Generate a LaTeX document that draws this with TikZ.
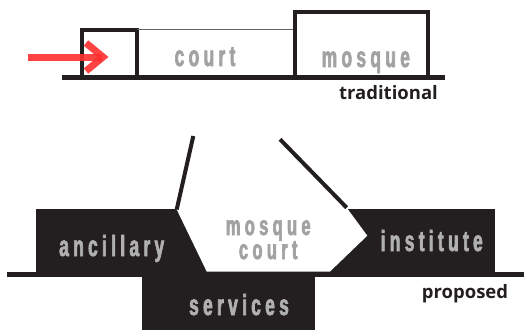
\documentclass[tikz,border=0pt]{standalone}
\usepackage{fontspec}
\newfontfamily\condfont{Liberation Sans}[UprightFont={* Bold}, FakeStretch=0.6, FakeBold=2.2]
\newfontfamily\labfont{Open Sans}
\newlength\lsp
\setlength\lsp{4.3pt}
\def\spc#1{\spcA#1\relax}
\def\spcA#1{#1\spcB}
\def\spcB#1{\ifx\relax#1\else\kern\lsp #1\expandafter\spcB\fi}
\definecolor{ink}{HTML}{231F20}
\definecolor{greytop}{HTML}{A2A2A2}
\definecolor{greybot}{HTML}{B0B0B0}
\definecolor{arrowred}{HTML}{FF2E2E}
\tikzset{
  wordtop/.style={inner sep=0pt, anchor=base, text=greytop, font=\condfont\fontsize{29}{22.8}\selectfont},
  wordbot/.style={inner sep=0pt, anchor=base, text=greybot, font=\condfont\fontsize{29}{22.8}\selectfont},
  caption/.style={inner sep=0pt, anchor=base, text=ink, font=\labfont\bfseries\fontsize{18.5}{18.5}\selectfont},
  wall/.style={draw=ink, line width=4pt, line join=miter},
  ground/.style={draw=ink, line width=5pt},
}
\begin{document}
\begin{tikzpicture}[x=1pt,y=-1pt]
\useasboundingbox (0,0) rectangle (524,330);
% ---------- traditional ----------
\draw[ground] (62,77.5) -- (445,77.5);
\draw[wall] (81.7,77.5) -- (81.7,30.3) -- (137,30.3) -- (137,77.5);
\draw[draw=ink!70, line width=1.2pt] (137,29.7) -- (294.7,29.7);
\draw[wall] (294.7,77.5) -- (294.7,11.7) -- (428,11.7) -- (428,77.5);
\node[wordtop] (tcourt) at (205,66) {\spc{court}};
\node[wordtop] (tmosque) at (365.8,67) {\spc{mosque}};
\node[caption] (trad) at (388.5,99) {traditional};
\begin{scope}[opacity=0.9]
\draw[draw=arrowred, line width=7pt] (28,57) -- (102,57);
\draw[draw=arrowred, line width=7pt, line join=miter] (86,43) -- (103,57) -- (86,71);
\end{scope}
% ---------- proposed ----------
\fill[ink] (36,208.5) rectangle (495,274);
\fill[ink] (141.7,274) rectangle (315,330);
\draw[ground] (6.7,274) -- (524,274);
\coordinate (lt) at (176.7,209.5);
\coordinate (rt) at (346.7,207.7);
\fill[white] (176.7,200) -- (346.7,200) -- (rt) -- (367.3,235.7) -- (330,271.5) -- (206.7,271.5) -- (lt) -- cycle;
\draw[draw=ink, line width=4pt] (193.3,136) -- (lt);
\draw[draw=ink, line width=4pt] (280,139.3) -- (rt);
\node[wordbot] (anc) at (111.7,256) {\spc{ancillary}};
\node[wordbot] (inst) at (431.7,251) {\spc{institute}};
\node[wordbot] (serv) at (239,315) {\spc{services}};
\node[wordtop, anchor=base, align=center, font=\condfont\fontsize{27.5}{24}\selectfont] (bcourt) at (268.2,259) {\spc{mosque}\\\spc{court}};
\node[caption] (prop) at (465,298) {proposed};
\end{tikzpicture}
\end{document}
